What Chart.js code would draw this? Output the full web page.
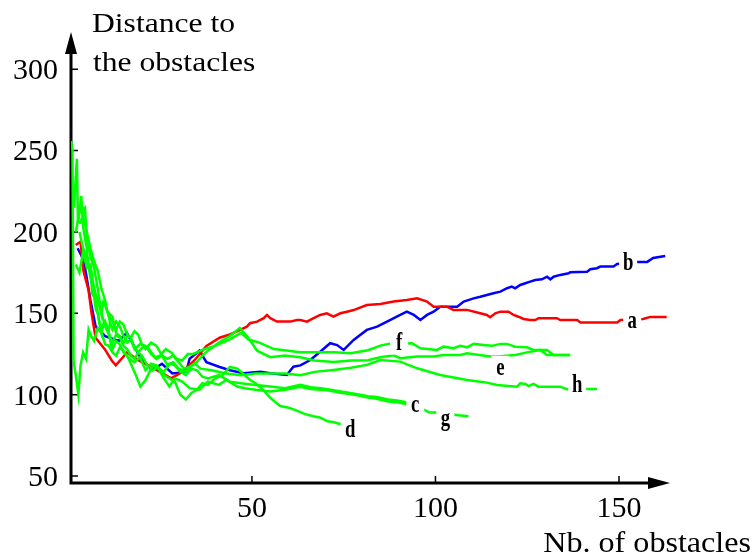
<!DOCTYPE html>
<html>
<head>
<meta charset="utf-8">
<script src="https://cdn.jsdelivr.net/npm/chart.js@4.4.1/dist/chart.umd.min.js"></script>
<style>
    html, body { margin: 0; padding: 0; background: #fff; }
</style>
</head>
<body>
<canvas id="obstacleChart" width="752" height="555"></canvas>
<script>
// Distance to the obstacles against number of obstacles, one curve per run (a..h)
const curveA = [[2,192],[3.3,194],[4.1,176],[5.5,164],[6.3,150],[7.4,135],[9.9,128],[11.8,121],[12.9,118],[16,126],[19.2,121],[23.4,116],[28,110],[31,114],[34.3,121],[37.6,130],[41.2,135],[44,137],[46.8,139.8],[48.6,141.8],[49.5,143.9],[51.4,144.9],[53.2,147],[54.1,149],[55,147],[56.8,144.9],[60.4,144.9],[62.3,145.9],[63.2,145.9],[65,144.9],[66.8,147],[68.6,149],[70.4,150],[72.2,148],[74.1,150],[75.9,151],[77.7,152],[81.3,155.1],[85,155.7],[88.6,157.2],[92.2,158.2],[95,159.2],[97.7,157.2],[99.5,154.1],[103.1,154.1],[104.9,152.1],[108.6,152.1],[112.2,150],[114,149],[114.9,147.6],[116.3,150],[117.7,151],[119.9,151],[121.3,149],[122.6,147.9],[124,146.5],[125.8,145.9],[127.2,145.9],[128.1,147],[133.1,147],[134,145.9],[138.6,145.9],[139.5,144.3],[149.5,144.3],[150.4,145.9],[156.6,146.5],[158.5,147.8],[163,147.8]];
const curveB = [[2.5,190],[4.1,183],[4.9,173],[6,158],[7.4,142],[10,136],[13.7,133],[15.9,138],[19.8,122],[22.8,115],[25.5,119],[28.3,113],[32.1,114],[33,122],[35.7,127],[37.6,120],[41.2,117],[44,115],[47.7,113.2],[52.3,114.1],[55,113.2],[59.5,112.1],[61.3,117.2],[63.2,118],[65.9,121.3],[68.6,126.4],[71.3,131.6],[73.2,130.5],[75,127.5],[77.7,133.6],[81.3,139.8],[84.1,141.8],[86.8,144.9],[90.4,149],[92.2,151],[94.1,149],[95.9,145.9],[97.7,149],[99.5,151],[101.3,154.1],[105.9,154.1],[107.7,157.2],[110.4,159.2],[112.2,160.2],[114,161.3],[115.8,162.3],[117.7,163.3],[119.5,165.4],[120.8,166.4],[121.7,165.4],[123.1,167.4],[124.5,168.5],[125.8,169.5],[127.2,170.5],[129,170.9],[130.4,172.5],[131.3,170.9],[132.2,172.5],[134,173.6],[136.3,174.6],[136.7,175.2],[141.3,175.6],[142.2,177.1],[144,177.7],[144.9,178.7],[148.5,178.7],[149.5,180.3],[155,181.6],[157.7,181.6],[159.3,184],[162.6,185.2]];
const curveC = [[0.8,256],[1.1,250],[1.4,121],[2,112],[2.7,100],[3.3,118],[4,126],[4.8,122],[5.5,140],[6.2,136],[7,133],[8,141],[9,138],[10,131],[11,130],[12,126],[13,124],[14,129],[15,127],[16.5,122],[18,120],[19.5,123],[21,115],[22.5,119],[24,118],[26,110],[27.5,105],[29,110],[31,108],[33,104],[35.7,103],[38,108],[41,106],[43,109],[46,105],[48,104],[51,103],[55,102],[59,103],[63.2,104.8],[66,103.5],[68.7,103],[71,102.5],[74.2,101.2],[78,100],[81.6,98.2],[84,97.5],[87.1,95.8],[90,95.2],[92.6,94]];
const curveD = [[1.5,215],[2.3,245],[2.6,205],[3.5,222],[4,203],[5,190],[5.5,178],[6,175],[6.5,162],[7,160],[7.5,152],[8,150],[8.5,143],[9,140],[10,145],[11,138],[12,132],[13,137],[14,135],[15,130],[16,128],[17,124],[18,122],[19,126],[20,124],[21.5,118],[23,115],[24.5,117],[26,112],[27.5,110],[29,108],[30.5,100],[32,97],[33.5,101],[35,103],[36.5,107],[38,106],[40,110],[42,112],[44,117],[46,116],[48,112],[49.5,109],[51,107],[53,103],[55,98],[57.7,93],[60,92],[62.4,90],[64.5,88],[66.8,86.7],[68.5,86],[70.6,83.6],[72.4,83],[74.2,81.8]];
const curveE = [[2,200],[3,212],[4.5,215],[5,197],[6,185],[7,178],[8,165],[9,150],[9.5,157],[10,155],[11,148],[11.5,143],[12,140],[13,145],[14,142],[15,136],[16,132],[17,134],[18,128],[19.5,131],[21,130],[22.5,125],[24,122],[25.5,124],[27,118],[28.5,120],[30,116],[32,114],[33.5,118],[35,120],[36.5,124],[38,127],[41,132],[44,136],[46.7,141],[49,135],[51.4,127],[55,123],[59,124],[63.2,123],[67,121],[72.3,120],[77,121],[81.6,121.2],[85,123],[88.7,124.2],[90.4,122.4],[95,123.4],[99.5,123.4],[102.2,124.4],[106.8,124.4],[108.6,125.4],[114.9,123.4],[117,123.4],[121.7,124.4],[125,126],[128.5,127.5],[130.4,124.4],[136.7,124.4]];
const curveF = [[3,200],[4,190],[5,185],[6,172],[7,165],[8,158],[9,150],[9.5,146],[10,143],[11,140],[11.5,147],[12,146],[13,138],[14,136],[15,132],[16,136],[17,135],[18,129],[19,126],[20.5,130],[22,128],[23.5,123],[25,124],[26.5,128],[28,126],[29.5,122],[31,121],[32.5,125],[34,125],[37,128],[40,130],[44,134],[47,138],[49,134],[52,132],[56,128],[60,127],[63,126],[66.8,126],[72.3,126],[76.9,125.5],[81.6,127.3],[85.2,130.3],[87.9,131.5],[91,131.5],[93.6,131.6],[95.9,128.5],[100.4,127.5],[102.2,129.5],[104.9,128.5],[106.8,130],[108.6,129.1],[110.4,131.2],[113.1,130.5],[115.4,130],[117.7,131.2],[119.5,131.2],[121.7,129.5],[124.9,129.1],[126.7,127.5],[130.4,127.5],[132.2,124.4],[136.7,124.4]];
const curveG = [[2,180],[3,175],[4,188],[5,178],[6,180],[7,165],[8,150],[9,138],[9.5,143],[10,142],[11,137],[11.5,132],[12,128],[13,133],[14,131],[15,126],[16,124],[17,119],[18,114],[19.6,105],[21,109],[23,118],[24.5,116],[26,114],[27.5,119],[29,118],[30.5,114],[32,112],[33.5,116],[35,115],[36.5,111],[38,110],[41,112],[44,108],[47,107],[51,106],[55,105],[59,104],[63.2,106],[66,104.5],[68.7,104],[71,103.2],[74.2,102],[78,100.5],[81.6,99],[84,98.5],[87.1,97],[90,96.3],[92.6,95],[95,93],[98.4,89],[101,89],[106.3,87.3],[109,86.7]];
const curveH = [[3,205],[4,210],[5,200],[6,190],[7,182],[8,176],[9,165],[10,158],[10.5,152],[11,150],[12,148],[12.5,142],[13,140],[14,145],[15,143],[16,137],[17,135],[18,139],[19,137],[20,131],[21,128],[22.5,132],[24,130],[25.5,124],[27,122],[28.5,124],[30,120],[31.5,116],[33,117],[34.5,119],[36,116],[39,115],[43,113],[47,112],[51,113],[55,113],[59,113],[63.2,112],[67,114],[72.2,115.2],[77,116.5],[81.3,118.3],[85,121.3],[90.4,120.3],[95,116.2],[101.3,112.1],[108.6,109],[112.2,108],[114,107.4],[116.8,106],[122.2,104.9],[123.1,107],[124.5,106.6],[125.4,105.3],[126.7,106.6],[128.1,104.9],[134,104.9],[135.8,103.3],[141.3,103.5],[144,103.5]];

const curveNames = ['a', 'b', 'c', 'd', 'e', 'f', 'g', 'h'];
const curves = [curveA, curveB, curveC, curveD, curveE, curveF, curveG, curveH];
const xTicks = [50, 100, 150];
const yTicks = [50, 100, 150, 200, 250, 300];

// where each letter sits (data units)
const letterSpots = [[153.6,145.5],[152.5,181],[94.5,94],[76.8,78.5],[117.7,116.5],[90.1,132],[102.7,85.5],[138.6,106]];

const curveColours = ['#ff0000', '#0000ff', '#00ff00', '#00ff00', '#00ff00', '#00ff00', '#00ff00', '#00ff00'];

function drawStretched(ctx, str, x, y, font, sx, align, baseline) {
    ctx.save();
    ctx.font = font;
    ctx.textAlign = align;
    ctx.textBaseline = baseline;
    ctx.translate(x, y);
    ctx.scale(sx, 1);
    ctx.fillText(str, 0, 0);
    ctx.restore();
}

const arrowAxes = {
    id: 'arrowAxes',
    beforeDatasetsDraw(chart) {
        const { ctx, chartArea: area, scales: { x, y } } = chart;
        ctx.save();
        ctx.strokeStyle = '#000';
        ctx.fillStyle = '#000';
        ctx.lineWidth = 3;
        ctx.beginPath();
        ctx.moveTo(area.left, area.bottom + 1.5);
        ctx.lineTo(area.left, area.top + 16);
        ctx.moveTo(area.left - 1.5, area.bottom);
        ctx.lineTo(area.right - 16, area.bottom);
        ctx.stroke();
        // arrow heads
        ctx.beginPath();
        ctx.moveTo(area.left, area.top);
        ctx.lineTo(area.left - 6, area.top + 22);
        ctx.lineTo(area.left + 6, area.top + 22);
        ctx.closePath();
        ctx.fill();
        ctx.beginPath();
        ctx.moveTo(area.right, area.bottom);
        ctx.lineTo(area.right - 22, area.bottom - 6);
        ctx.lineTo(area.right - 22, area.bottom + 6);
        ctx.closePath();
        ctx.fill();
        // tick marks, inside the axes
        ctx.lineWidth = 1.5;
        ctx.beginPath();
        xTicks.forEach(v => {
            const px = x.getPixelForValue(v);
            ctx.moveTo(px, area.bottom);
            ctx.lineTo(px, area.bottom - 7);
        });
        yTicks.forEach(v => {
            const py = y.getPixelForValue(v);
            ctx.moveTo(area.left, py);
            ctx.lineTo(area.left + 7, py);
        });
        ctx.stroke();
        // tick labels
        const tickFont = '30px "Liberation Serif", "Times New Roman", serif';
        xTicks.forEach(v => {
            drawStretched(ctx, String(v), x.getPixelForValue(v), area.bottom + 26, tickFont, 1, 'center', 'middle');
        });
        yTicks.forEach(v => {
            drawStretched(ctx, String(v), area.left - 13, y.getPixelForValue(v) + 2, tickFont, 1, 'right', 'middle');
        });
        // axis titles
        const titleFont = '27px "Liberation Serif", "Times New Roman", serif';
        drawStretched(ctx, 'Distance to', 92, 32, titleFont, 1.17, 'left', 'alphabetic');
        drawStretched(ctx, 'the obstacles', 93, 71, titleFont, 1.17, 'left', 'alphabetic');
        drawStretched(ctx, 'Nb. of obstacles', 751, 552, '30px "Liberation Serif", "Times New Roman", serif', 1.07, 'right', 'alphabetic');
        ctx.restore();
    },
    afterDatasetsDraw(chart) {
        const { ctx, scales: { x, y } } = chart;
        ctx.save();
        curveNames.forEach((name, i) => {
            const px = x.getPixelForValue(letterSpots[i][0]);
            const py = y.getPixelForValue(letterSpots[i][1]);
            ctx.fillStyle = '#fff';
            ctx.fillRect(px - 9, py - 12, 18, 24);
            ctx.fillStyle = '#000';
            drawStretched(ctx, name, px, py + 1, 'bold 25px "Liberation Serif", "Times New Roman", serif', 0.75, 'center', 'middle');
        });
        ctx.restore();
    }
};

const ctx = document.getElementById('obstacleChart').getContext('2d');
new Chart(ctx, {
    type: 'line',
    data: {
        datasets: curves.map((pts, i) => ({
            label: curveNames[i],
            data: pts.map(p => ({ x: p[0], y: p[1] })),
            borderColor: curveColours[i],
            borderWidth: 2.5,
            pointRadius: 0,
            tension: 0,
            fill: false,
            // green runs are drawn over the red and blue ones
            order: i < 2 ? 1 : 0
        }))
    },
    options: {
        responsive: false,
        devicePixelRatio: 1,
        animation: false,
        layout: { padding: { left: 71, right: 82, top: 32, bottom: 72 } },
        scales: {
            x: { type: 'linear', display: false, min: 0.7, max: 163.9 },
            y: { type: 'linear', display: false, min: 45.7, max: 322.9 }
        },
        plugins: {
            legend: { display: false },
            tooltip: { enabled: false }
        }
    },
    plugins: [arrowAxes]
});
</script>
</body>
</html>
